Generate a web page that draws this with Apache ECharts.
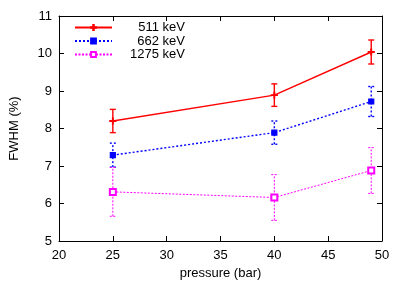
<!DOCTYPE html>
<html><head><meta charset="utf-8">
<script src="https://cdn.jsdelivr.net/npm/echarts@6/dist/echarts.min.js"></script>
<style>html,body{margin:0;padding:0;background:#fff}#c{width:407px;height:285px}</style>
</head><body><div id="c"></div>
<script>
var pressure = [25, 40, 49];
var names = ['511 keV', '662 keV', '1275 keV'];
var fwhm511 = [8.2, 8.89, 10.04];
var err511 = [0.31, 0.3, 0.32];
var fwhm662 = [7.29, 7.89, 8.72];
var err662 = [0.32, 0.31, 0.4];
var fwhm1275 = [6.31, 6.16, 6.88];
var err1275 = [0.65, 0.61, 0.61];
var xTicks = [20, 25, 30, 35, 40, 45, 50];
var yTicks = [5, 6, 7, 8, 9, 10, 11];

var FONT = 'Liberation Sans';
var FS = 13;
var colors = ['#ff0000', '#0000ff', '#ff00ff'];
var dashes = [null, [2, 2], [2, 1.5]];
var widths = [1.4, 1.4, 1];
var vals = [fwhm511, fwhm662, fwhm1275];
var errs = [err511, err662, err1275];
var plusPath = 'path://M4.4,0 L5.6,0 L5.6,4.4 L10,4.4 L10,5.6 L5.6,5.6 L5.6,10 L4.4,10 L4.4,5.6 L0,5.6 L0,4.4 L4.4,4.4 Z';
var symbols = [plusPath, 'rect', 'emptyRect'];
var symSizes = [6, 5, 6];

var series = [];
for (var i = 0; i < 3; i++) {
  (function (i) {
    series.push({
      name: names[i], type: 'line',
      data: pressure.map(function (p, k) { return [p, vals[i][k]]; }),
      symbol: symbols[i], symbolSize: symSizes[i],
      lineStyle: { color: colors[i], width: widths[i], type: dashes[i] || 'solid' },
      itemStyle: { color: colors[i], borderColor: colors[i], borderWidth: 1.2 },
      z: 3
    });
    series.push({
      type: 'custom', name: names[i] + ' err',
      data: pressure.map(function (p, k) { return [p, vals[i][k] - errs[i][k], vals[i][k] + errs[i][k]]; }),
      renderItem: function (params, api) {
        var x = api.value(0);
        var lo = api.coord([x, api.value(1)]);
        var hi = api.coord([x, api.value(2)]);
        var st = { stroke: colors[i], lineWidth: widths[i], lineDash: dashes[i] };
        var w = 3;
        return { type: 'group', children: [
          { type: 'line', shape: { x1: lo[0], y1: lo[1], x2: hi[0], y2: hi[1] }, style: st },
          { type: 'line', shape: { x1: lo[0] - w, y1: lo[1], x2: lo[0] + w, y2: lo[1] }, style: st },
          { type: 'line', shape: { x1: hi[0] - w, y1: hi[1], x2: hi[0] + w, y2: hi[1] }, style: st }
        ]};
      },
      z: 2, silent: true
    });
  })(i);
}

var tickStyle = { show: true, inside: true, length: 5, lineStyle: { color: '#000', width: 1 } };
var lineAx = { show: true, lineStyle: { color: '#000', width: 1 } };
var chart = echarts.init(document.getElementById('c'), null, { renderer: 'canvas' });
chart.setOption({
  animation: false,
  textStyle: { fontFamily: FONT },
  grid: { left: 58, right: 25, top: 16, bottom: 44 },
  legend: {
    data: names, left: 74, top: 21, orient: 'vertical', padding: 0,
    itemWidth: 37, itemHeight: 6, itemGap: 0.5,
    formatter: function (n) { return '{a|' + n + '}'; },
    textStyle: { fontFamily: FONT, fontSize: FS, color: '#000', lineHeight: 12,
      rich: { a: { width: 68, align: 'right', fontFamily: FONT, fontSize: FS, color: '#000', lineHeight: 12 } } }
  },
  xAxis: [{
    type: 'value', min: xTicks[0], max: xTicks[xTicks.length - 1], interval: 5,
    name: 'pressure (bar)', nameLocation: 'middle', nameGap: 26,
    nameTextStyle: { fontFamily: FONT, fontSize: FS, color: '#000' },
    axisLine: lineAx, axisTick: tickStyle, splitLine: { show: false },
    axisLabel: { fontFamily: FONT, fontSize: FS, color: '#000', margin: 8 }
  }, {
    type: 'value', position: 'top', min: xTicks[0], max: xTicks[xTicks.length - 1], interval: 5,
    axisLine: lineAx, axisTick: tickStyle, splitLine: { show: false }, axisLabel: { show: false }
  }],
  yAxis: [{
    type: 'value', min: yTicks[0], max: yTicks[yTicks.length - 1], interval: 1,
    name: 'FWHM (%)', nameLocation: 'middle', nameGap: 38, nameRotate: 90,
    nameTextStyle: { fontFamily: FONT, fontSize: FS, color: '#000' },
    axisLine: lineAx, axisTick: tickStyle, splitLine: { show: false },
    axisLabel: { fontFamily: FONT, fontSize: FS, color: '#000', margin: 7 }
  }, {
    type: 'value', position: 'right', min: yTicks[0], max: yTicks[yTicks.length - 1], interval: 1,
    axisLine: lineAx, axisTick: tickStyle, splitLine: { show: false }, axisLabel: { show: false }
  }],
  series: series
});
</script></body></html>
